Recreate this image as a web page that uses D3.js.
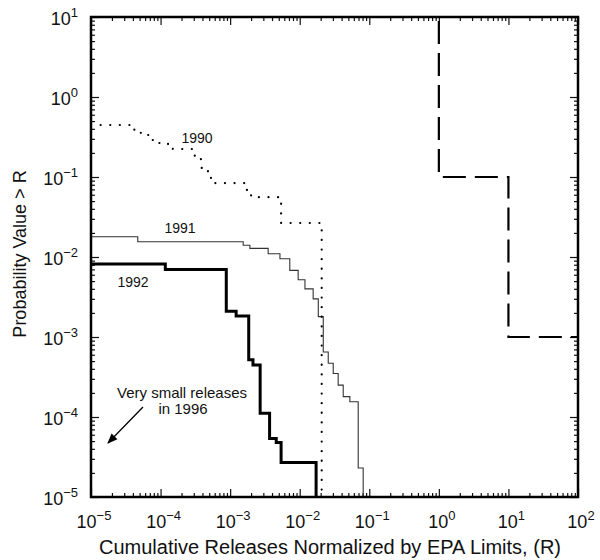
<!DOCTYPE html>
<html>
<head>
    <style>
        body { margin: 0; background: #fff; }
        text { font-family: "Liberation Sans", Arial, sans-serif; fill: #111; }
    </style>
    <script src="https://d3js.org/d3.v7.min.js"></script>
</head>
<body>
    <svg width="600" height="560"></svg>
    <script>
        // step points: R where a level starts, P level from there on
        const r90 = [1e-5, 4.2e-5, 5.2e-5, 7.3e-5, 9.2e-5, 1.28e-4, 1.5e-4, 3.1e-4, 3.8e-4, 4.8e-4, 5.3e-4, 6.0e-4, 1.63e-3, 2.0e-3, 4.9e-3, 5.4e-3, 0.0207]
        const p90 = [0.447, 0.368, 0.335, 0.29, 0.266, 0.25, 0.224, 0.178, 0.13, 0.115, 0.095, 0.084, 0.069, 0.056, 0.047, 0.0266, 1e-5]

        const r91 = [1e-5, 4.7e-5, 1.54e-3, 1.92e-3, 3.52e-3, 5.2e-3, 7.2e-3, 9.5e-3, 0.0119, 0.0156, 0.0185, 0.0218, 0.0257, 0.0303, 0.0357, 0.0422, 0.0526, 0.0693, 0.0817]
        const p91 = [0.0179, 0.0155, 0.0140, 0.0128, 0.0110, 0.0095, 0.0068, 0.0052, 0.0040, 0.0030, 0.0018, 6.5e-4, 4.7e-4, 3.5e-4, 2.5e-4, 1.8e-4, 1.55e-4, 2.3e-5, 1e-5]

        const r92 = [1e-5, 1.17e-4, 8.8e-4, 1.22e-3, 1.85e-3, 2.13e-3, 2.7e-3, 3.69e-3, 4.6e-3, 5.4e-3, 0.0172]
        const p92 = [0.0082, 0.0070, 0.0021, 0.00183, 5.2e-4, 4.47e-4, 1.11e-4, 5.4e-5, 4.8e-5, 2.7e-5, 1e-5]

        // 1996: vertical first, then across
        const r96 = [1, 10, 100]
        const p96 = [10, 0.1, 1e-3]

        const xExp = [-5, -4, -3, -2, -1, 0, 1, 2]
        const yExp = [-5, -4, -3, -2, -1, 0, 1]

        const m = { left: 91, top: 17, right: 578, bottom: 497 }
        const svg = d3.select("svg")

        const x = d3.scaleLog().domain([1e-5, 1e2]).range([m.left, m.right])
        const y = d3.scaleLog().domain([1e-5, 1e1]).range([m.bottom, m.top])

        const majorX = xExp.map(e => Math.pow(10, e))
        const majorY = yExp.map(e => Math.pow(10, e))
        const minorX = x.ticks().filter(v => !majorX.some(t => Math.abs(t - v) / t < 1e-6))
        const minorY = y.ticks().filter(v => !majorY.some(t => Math.abs(t - v) / t < 1e-6))

        // ticks on all four sides, pointing inward
        function tickAxis(axisFn, scale, vals, size, tx, ty) {
            const g = svg.append("g")
                .attr("transform", `translate(${tx},${ty})`)
                .call(axisFn(scale).tickValues(vals).tickSize(size).tickFormat(""))
            g.select(".domain").remove()
            g.selectAll("line").attr("stroke", "#111").attr("stroke-width", 1.2)
        }
        tickAxis(d3.axisBottom, x, majorX, -8, 0, m.bottom)
        tickAxis(d3.axisBottom, x, minorX, -4, 0, m.bottom)
        tickAxis(d3.axisTop, x, majorX, -8, 0, m.top)
        tickAxis(d3.axisTop, x, minorX, -4, 0, m.top)
        tickAxis(d3.axisLeft, y, majorY, -8, m.left, 0)
        tickAxis(d3.axisLeft, y, minorY, -4, m.left, 0)
        tickAxis(d3.axisRight, y, majorY, -8, m.right, 0)
        tickAxis(d3.axisRight, y, minorY, -4, m.right, 0)

        // curves
        const stepA = d3.line().x(d => x(d[0])).y(d => y(d[1])).curve(d3.curveStepAfter)
        const stepB = d3.line().x(d => x(d[0])).y(d => y(d[1])).curve(d3.curveStepBefore)

        svg.append("path").attr("d", stepA(d3.zip(r91, p91)))
            .attr("fill", "none").attr("stroke", "#333").attr("stroke-width", 1.1)

        svg.append("path").attr("d", stepA(d3.zip(r90, p90)))
            .attr("fill", "none").attr("stroke", "#000").attr("stroke-width", 2.2)
            .attr("stroke-linecap", "round").attr("stroke-dasharray", "0.1,9.5")

        svg.append("path").attr("d", stepA(d3.zip(r92, p92)))
            .attr("fill", "none").attr("stroke", "#000").attr("stroke-width", 3)

        svg.append("path").attr("d", stepB(d3.zip(r96, p96)))
            .attr("fill", "none").attr("stroke", "#000").attr("stroke-width", 2.2)
            .attr("stroke-dasharray", "23,9").attr("stroke-dashoffset", -4)

        // frame
        svg.append("rect")
            .attr("x", m.left).attr("y", m.top)
            .attr("width", m.right - m.left).attr("height", m.bottom - m.top)
            .attr("fill", "none").attr("stroke", "#000").attr("stroke-width", 2.5)

        // tick labels as 10 with superscript exponent
        function powLabel(sel, e) {
            sel.append("tspan").text("10")
            sel.append("tspan").attr("dy", -8).attr("font-size", 13)
                .text(e < 0 ? "\u2212" + (-e) : e)
        }
        xExp.forEach(e => {
            svg.append("text").attr("x", x(Math.pow(10, e)) + 3).attr("y", 528)
                .attr("text-anchor", "middle").attr("font-size", 18)
                .call(powLabel, e)
        })
        yExp.forEach(e => {
            svg.append("text").attr("x", 78).attr("y", y(Math.pow(10, e)) + 8)
                .attr("text-anchor", "end").attr("font-size", 18)
                .call(powLabel, e)
        })

        // axis titles
        svg.append("text").attr("x", 330).attr("y", 554)
            .attr("text-anchor", "middle").attr("font-size", 20)
            .text("Cumulative Releases Normalized by EPA Limits, (R)")
        svg.append("text")
            .attr("transform", "translate(26,254) rotate(-90)")
            .attr("text-anchor", "middle").attr("font-size", 18)
            .text("Probability Value > R")

        // curve labels
        svg.append("text").attr("x", 197).attr("y", 143).attr("text-anchor", "middle").attr("font-size", 14).text("1990")
        svg.append("text").attr("x", 180).attr("y", 233).attr("text-anchor", "middle").attr("font-size", 14).text("1991")
        svg.append("text").attr("x", 133).attr("y", 287).attr("text-anchor", "middle").attr("font-size", 14).text("1992")

        svg.append("text").attr("x", 182).attr("y", 398).attr("text-anchor", "middle").attr("font-size", 15).text("Very small releases")
        svg.append("text").attr("x", 183).attr("y", 414).attr("text-anchor", "middle").attr("font-size", 15).text("in 1996")

        // arrow
        svg.append("defs").append("marker")
            .attr("id", "head").attr("viewBox", "0 0 10 10")
            .attr("refX", 9).attr("refY", 5)
            .attr("markerWidth", 8).attr("markerHeight", 8)
            .attr("orient", "auto")
            .append("path").attr("d", "M0,1 L10,5 L0,9 Z").attr("fill", "#000")
        svg.append("line")
            .attr("x1", 143).attr("y1", 407).attr("x2", 108).attr("y2", 443)
            .attr("stroke", "#000").attr("stroke-width", 1.3)
            .attr("marker-end", "url(#head)")
    </script>
</body>
</html>
